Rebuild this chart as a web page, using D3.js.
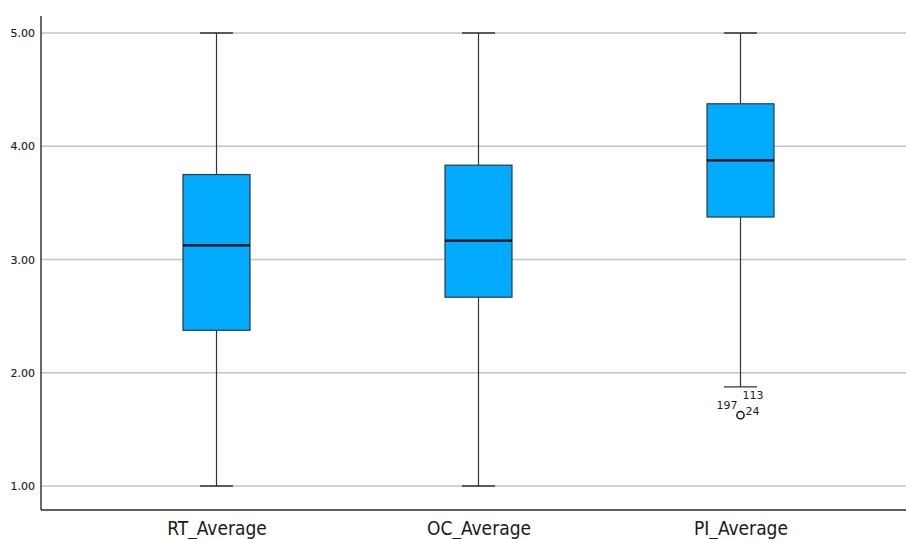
<!DOCTYPE html>
<html>
<head>
<meta charset="utf-8">
<script src="https://cdn.jsdelivr.net/npm/d3@7"></script>
<style>
  html, body { margin: 0; padding: 0; background: #fff; }
  svg { display: block; }
</style>
</head>
<body>
<svg id="chart" width="906" height="539"></svg>
<script>
// Box plot of three averaged scales
const categories = ["RT_Average", "OC_Average", "PI_Average"];
const whiskerLow  = [1.00, 1.00, 1.875];
const q1Values    = [2.375, 2.667, 3.375];
const medians     = [3.125, 3.167, 3.875];
const q3Values    = [3.75, 3.833, 4.375];
const whiskerHigh = [5.00, 5.00, 5.00];
const yTicks      = [1, 2, 3, 4, 5];

// Outlying cases (category, value, case numbers)
const outlierCategory = ["PI_Average"];
const outlierValue    = [1.625];
const outlierCases    = [["197", "24", "113"]];

const svg = d3.select("#chart");
const plotLeft = 41, plotRight = 906, plotTop = 16, plotBottom = 510;

const y = d3.scaleLinear().domain([1, 5]).range([486, 33]);
const x = d3.scalePoint().domain(categories).range([216.5, 740.5]);

const boxW = 67, capW = 33;

// gridlines
svg.append("g")
  .selectAll("line")
  .data(yTicks)
  .join("line")
  .attr("x1", plotLeft).attr("x2", plotRight)
  .attr("y1", d => y(d)).attr("y2", d => y(d))
  .attr("stroke", "#c4c4c4").attr("stroke-width", 1.3);

// y axis tick labels
const yAxis = d3.axisLeft(y).tickValues(yTicks).tickFormat(d3.format(".2f")).tickSize(0).tickPadding(6);
const yg = svg.append("g").attr("transform", `translate(${plotLeft},0)`).call(yAxis);
yg.select(".domain").remove();
yg.selectAll("text")
  .attr("font-family", "DejaVu Sans, sans-serif")
  .attr("font-size", 11)
  .attr("fill", "#222")
  .attr("stroke", "#222").attr("stroke-width", 0.15);

// x axis labels
const xAxis = d3.axisBottom(x).tickSize(0).tickPadding(12);
const xg = svg.append("g").attr("transform", `translate(0,${plotBottom})`).call(xAxis);
xg.select(".domain").remove();
xg.selectAll("text")
  .attr("font-family", "DejaVu Sans Condensed, DejaVu Sans, sans-serif")
  .attr("font-size", 19)
  .attr("fill", "#1a1a1a");

// axis lines
svg.append("line")
  .attr("x1", plotLeft).attr("x2", plotLeft).attr("y1", plotTop).attr("y2", plotBottom)
  .attr("stroke", "#2a2a2a").attr("stroke-width", 1.4);
svg.append("line")
  .attr("x1", plotLeft).attr("x2", plotRight).attr("y1", plotBottom).attr("y2", plotBottom)
  .attr("stroke", "#2a2a2a").attr("stroke-width", 1.4);

const stats = categories.map((c, i) => ({
  c, lo: whiskerLow[i], q1: q1Values[i], med: medians[i], q3: q3Values[i], hi: whiskerHigh[i]
}));

const g = svg.append("g").selectAll("g").data(stats).join("g");

// whiskers
g.append("line")
  .attr("x1", d => x(d.c)).attr("x2", d => x(d.c))
  .attr("y1", d => y(d.hi)).attr("y2", d => y(d.q3))
  .attr("stroke", "#333").attr("stroke-width", 1.2);
g.append("line")
  .attr("x1", d => x(d.c)).attr("x2", d => x(d.c))
  .attr("y1", d => y(d.q1)).attr("y2", d => y(d.lo))
  .attr("stroke", "#333").attr("stroke-width", 1.2);
// caps
g.append("line")
  .attr("x1", d => x(d.c) - capW / 2).attr("x2", d => x(d.c) + capW / 2)
  .attr("y1", d => y(d.hi)).attr("y2", d => y(d.hi))
  .attr("stroke", "#333").attr("stroke-width", 1.4);
g.append("line")
  .attr("x1", d => x(d.c) - capW / 2).attr("x2", d => x(d.c) + capW / 2)
  .attr("y1", d => y(d.lo)).attr("y2", d => y(d.lo))
  .attr("stroke", "#333").attr("stroke-width", 1.4);

// boxes
g.append("rect")
  .attr("x", d => x(d.c) - boxW / 2)
  .attr("y", d => y(d.q3))
  .attr("width", boxW)
  .attr("height", d => y(d.q1) - y(d.q3))
  .attr("fill", "#02abfd")
  .attr("stroke", "#2f3a40").attr("stroke-width", 1.2);

// medians
g.append("line")
  .attr("x1", d => x(d.c) - boxW / 2).attr("x2", d => x(d.c) + boxW / 2)
  .attr("y1", d => y(d.med)).attr("y2", d => y(d.med))
  .attr("stroke", "#0a0a0a").attr("stroke-width", 2.4);

// outliers with case labels
outlierCategory.forEach((c, i) => {
  const cx = x(c), cy = y(outlierValue[i]);
  svg.append("circle")
    .attr("cx", cx).attr("cy", cy).attr("r", 3.6)
    .attr("fill", "#fff").attr("stroke", "#111").attr("stroke-width", 1.5);
  const ids = outlierCases[i];
  const offsets = [[-24, -6, "start"], [5, 0, "start"], [2, -16, "start"]];
  ids.forEach((id, k) => {
    svg.append("text")
      .attr("x", cx + offsets[k][0]).attr("y", cy + offsets[k][1])
      .attr("text-anchor", offsets[k][2])
      .attr("font-family", "DejaVu Sans, sans-serif")
      .attr("font-size", 11)
      .attr("fill", "#222")
      .text(id);
  });
});
</script>
</body>
</html>
